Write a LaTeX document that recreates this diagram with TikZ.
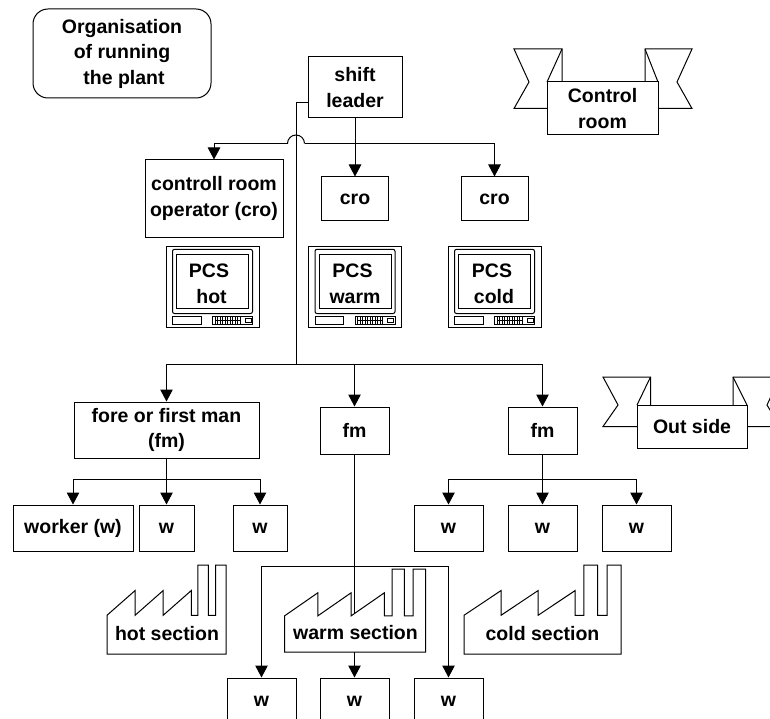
\documentclass[tikz,border=0pt]{standalone}
\usepackage{fontspec}
\setmainfont{Liberation Sans}
\usetikzlibrary{arrows.meta,calc}
\tikzset{
  main/.style = {draw, fill=white, line width=1pt, align=center, font=\fontsize{19.5}{25.5}\selectfont\bfseries, inner sep=0pt},
  label/.style = {align=center, font=\fontsize{19.5}{25.5}\selectfont\bfseries, inner sep=0pt},
  conn/.style = {line width=1pt, -{Triangle[width=12.5pt,length=12pt]}},
  wire/.style = {line width=1pt},
  factory/.pic = {
    \draw[line width=1pt, fill=white] (0,.565) -- (.236,.287) -- (.236,.565) -- (.472,.287) -- (.472,.565) -- (.708,.287)
      -- (.708,.565) -- (.763,.565) -- (.763,0) -- (.851,0) -- (.851,.565) -- (.912,.565) -- (.912,0) -- (1,0) -- (1,1) -- (0,1) -- cycle;
  },
  monitor/.pic = {
    \draw[line width=1pt, fill=white] (0,0) rectangle (93,81);
    \draw[line width=1pt, rounded corners=2pt] (6.5,3.3) rectangle (86.5,67.5);
    \draw[line width=1pt] (10.7,8.7) rectangle (82.5,62.5);
    \draw[line width=.8pt] (6.5,70.3) rectangle (35.2,78.3);
    \draw[line width=.8pt] (46.7,70.3) rectangle (86.5,78.3);
    \foreach \i in {49,51.5,...,74} \draw[line width=.6pt] (\i,70.3) -- (\i,78.3);
    \draw[line width=.6pt] (49,74.3) -- (74,74.3);
    \draw[line width=.6pt] (79,72.3) rectangle (85,76.3);
  },
}
\begin{document}
\begin{tikzpicture}[x=1pt, y=-1pt]
  \useasboundingbox (0,0) rectangle (770,719);
  \clip (0,0) rectangle (770,719);

  % banners
  \draw[wire] (562,82) -- (562,49) -- (514,49) -- (529,82) -- (514,108.5) -- (547,108.5);
  \draw[wire] (562,49) -- (547,82);
  \draw[wire] (645,82) -- (645,49) -- (692,49) -- (677,82) -- (692,108.5) -- (658,108.5);
  \draw[wire] (645,49) -- (658,82);
  \draw[wire] (650.5,405) -- (650.5,377) -- (603,377) -- (618,405) -- (603,426.5) -- (637,426.5);
  \draw[wire] (650.5,377) -- (637,405);
  \draw[wire] (733,405) -- (733,377) -- (780,377) -- (767,405) -- (780,426.5) -- (747,426.5);
  \draw[wire] (733,377) -- (747,405);

  % boxes
  \node[main, rounded corners=15pt, minimum width=178pt, minimum height=89pt] (org) at (122,53.5) {Organisation\\of running\hspace*{3pt}\\\hspace*{4pt}the plant};
  \node[main, minimum width=94pt, minimum height=61pt] (leader) at (355,87.5) {shift\\leader};
  \node[main, minimum width=111pt, minimum height=53pt] (room) at (602.5,108.5) {Control\\room};
  \node[main, minimum width=110pt, minimum height=43pt] (outside) at (692,426.5) {Out side};
  \node[main, minimum width=138pt, minimum height=77pt] (cro1) at (214,198.5) {controll room\\operator (cro)};
  \node[main, minimum width=67pt, minimum height=44pt] (cro2) at (355,199) {cro};
  \node[main, minimum width=67pt, minimum height=44pt] (cro3) at (494.5,199) {cro};

  % monitors
  \pic at (166,246) {monitor};
  \pic at (308.5,246) {monitor};
  \pic at (448,246) {monitor};
  \node[label] (pcs1) at (211.5,284) {PCS\hspace*{5pt}\\hot};
  \node[label] (pcs2) at (355,284) {PCS\hspace*{5pt}\\warm};
  \node[label] (pcs3) at (494,284) {PCS\hspace*{4pt}\\cold};

  \node[main, minimum width=185pt, minimum height=56pt] (fm1) at (166.5,430) {fore or first man\\(fm)};
  \node[main, minimum width=69pt, minimum height=47pt] (fm2) at (354.5,430.5) {fm};
  \node[main, minimum width=69pt, minimum height=47pt] (fm3) at (542.5,430.5) {fm};

  \node[main, minimum width=120pt, minimum height=46pt] (w1) at (73,528) {worker (w)};
  \node[main, minimum width=55pt, minimum height=46pt] (w2) at (166.5,528) {w};
  \node[main, minimum width=54pt, minimum height=46pt] (w3) at (260,528) {w};
  \node[main, minimum width=69pt, minimum height=46pt] (w4) at (448.5,528) {w};
  \node[main, minimum width=69pt, minimum height=46pt] (w5) at (542.5,528) {w};
  \node[main, minimum width=69pt, minimum height=46pt] (w6) at (636.5,528) {w};
  \node[main, minimum width=69pt, minimum height=46pt] (w7) at (261.5,701) {w};
  \node[main, minimum width=69pt, minimum height=46pt] (w8) at (354.5,701) {w};
  \node[main, minimum width=69pt, minimum height=46pt] (w9) at (448.5,701) {w};

  % wires
  \coordinate (trunktop) at (296,103);
  \coordinate (trunkbot) at (296,364);
  \coordinate (crossl) at (287.5,143.5);
  \coordinate (crossr) at (304.5,143.5);
  \coordinate (bus1) at (166.5,479);
  \coordinate (bus2) at (542.5,479);
  \coordinate (bus3) at (354.5,566);
  \draw[wire] (leader.west |- trunktop) -- (trunktop) -- (trunkbot);
  \draw[conn] (crossl) -| (cro1.north);
  \draw[wire] (crossl) arc[start angle=180, end angle=0, radius=8.5pt];
  \draw[conn] (crossr) -| (cro3.north);
  \draw[conn] (leader.south) -- (cro2.north);
  \draw[conn] (trunkbot) -| (fm1.north);
  \draw[conn] (trunkbot) -| (fm3.north);
  \draw[conn] (fm2.north |- trunkbot) -- (fm2.north);
  \draw[conn] (fm1.south) -- (w2.north);
  \draw[conn] (bus1) -| (w1.north);
  \draw[conn] (bus1) -| (w3.north);
  \draw[conn] (fm3.south) -- (w5.north);
  \draw[conn] (bus2) -| (w4.north);
  \draw[conn] (bus2) -| (w6.north);
  \draw[conn] (fm2.south) -- (w8.north);
  \draw[conn] (bus3) -| (w7.north);
  \draw[conn] (bus3) -| (w9.north);

  % factories
  \pic[xscale=119, yscale=89] at (107,565) {factory};
  \pic[xscale=141, yscale=83] at (284.5,569) {factory};
  \pic[xscale=157, yscale=89] at (464,565) {factory};
  \node[label] (hot) at (167,634) {hot section};
  \node[label] (warm) at (355.5,633) {warm section};
  \node[label] (cold) at (542.5,634) {cold section};
\end{tikzpicture}
\end{document}
